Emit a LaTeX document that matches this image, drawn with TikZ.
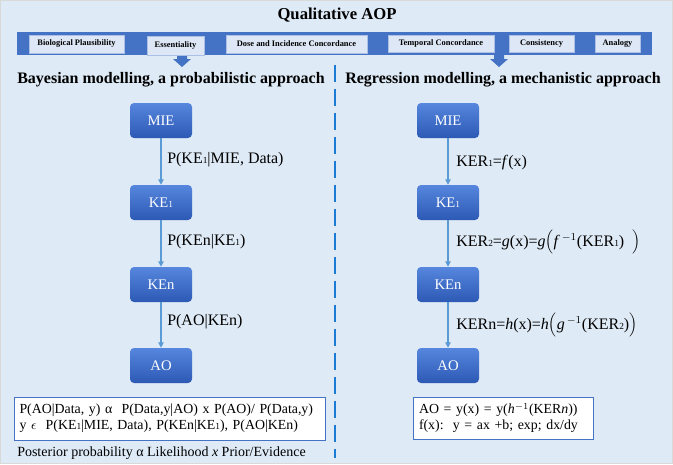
\documentclass[tikz,border=0pt]{standalone}
\usepackage{fontspec}
\setmainfont{Liberation Serif}[BoldFont={Liberation Serif Bold}, ItalicFont={Liberation Serif Italic}]
\usetikzlibrary{arrows.meta}
\definecolor{bgblue}{HTML}{DEEAF6}
\definecolor{barblue}{HTML}{4472C4}
\definecolor{critfill}{HTML}{DDE7F5}
\definecolor{evtop}{HTML}{5686DE}
\definecolor{evbot}{HTML}{2C59B4}
\definecolor{flowblue}{HTML}{5B9BD5}
\definecolor{dashblue}{HTML}{1A7AD4}
\newcommand{\low}[1]{{\fontsize{7}{7}\selectfont #1}}

\begin{document}
\begin{tikzpicture}[x=0.75pt,y=0.75pt,yscale=-1,xscale=1,
  crit/.style={draw=white!55!barblue, fill=critfill, line width=0.5pt, inner sep=0pt, font=\bfseries\fontsize{6.3}{7}\selectfont},
  event/.style={rounded corners=3pt, top color=evtop, bottom color=evbot, minimum width=46.5pt, minimum height=26.25pt, text=white, font=\fontsize{11}{13}\selectfont},
  flow/.style={draw=flowblue, line width=0.8pt, -{Triangle[length=4pt,width=4pt]}},
  lab/.style={anchor=west, inner sep=0pt, font=\fontsize{12}{14}\selectfont},
  heading/.style={font=\bfseries\fontsize{12}{14}\selectfont, inner sep=0pt},
  formbox/.style={draw=barblue, fill=white, line width=0.75pt, align=left, inner ysep=0pt, font=\fontsize{10.4}{12}\selectfont}
]
\useasboundingbox (0,0) rectangle (673,464);
%Shape: Background
\draw [draw=black!15, fill=bgblue] (0.5,0.5) rectangle (672.5,463.5) ;

% Text Node
\node [font=\bfseries\fontsize{12.5}{14}\selectfont, inner sep=0pt] (title) at (337,15) {Qualitative AOP};

%Shape: Criteria bar
\fill [barblue] (17,32) rectangle (652,55) ;
%Shape: Down arrows
\fill [barblue] (177,55) -- (187,55) -- (187,59) -- (191,59) -- (182,67) -- (173,59) -- (177,59) -- cycle ;
\fill [barblue] (494,55) -- (504,55) -- (504,59) -- (508,59) -- (499,67) -- (490,59) -- (494,59) -- cycle ;

% Criteria
\node [crit, minimum width=71.25pt, minimum height=13.5pt] (plaus) at (76.5,44) {Biological Plausibility};
\node [crit, minimum width=42.75pt, minimum height=14.25pt] (essen) at (175.5,45.5) {Essentiality};
\node [crit, minimum width=105.75pt, minimum height=13.5pt] (dose) at (296.5,44) {Dose and Incidence Concordance};
\node [crit, minimum width=79.5pt, minimum height=12.75pt] (tempo) at (441,43.5) {Temporal Concordance};
\node [crit, minimum width=48.75pt, minimum height=12.75pt] (consi) at (541.5,43.5) {Consistency};
\node [crit, minimum width=33.75pt, minimum height=12.75pt] (analo) at (617.5,43.5) {Analogy};

% Text Node
\node [heading] (bayes) at (171,80) {Bayesian modelling, a probabilistic approach};
% Text Node
\node [heading] (regr) at (503,80) {Regression modelling, a mechanistic approach};

%Shape: Divider
\draw [dashblue, line width=1.7pt, dash pattern=on 12.75pt off 5.25pt] (335,65) -- (335,458) ;

% Bayesian chain
\node [event] (bmie) at (161,120.5) {MIE};
\node [event] (bkeone) at (161,202.5) {KE\low{1}};
\node [event] (bken) at (161,284.5) {KEn};
\node [event] (bao) at (161,365.5) {AO};
\draw [flow] (bmie) -- (bkeone) ;
\draw [flow] (bkeone) -- (bken) ;
\draw [flow] (bken) -- (bao) ;
\node [lab] (bpone) at (167,160) {P(KE\low{1}|MIE, Data)};
\node [lab] (bptwo) at (167,242) {P(KEn|KE\low{1})};
\node [lab] (bpthree) at (167,322) {P(AO|KEn)};

% Regression chain
\node [event] (rmie) at (448,120.5) {MIE};
\node [event] (rkeone) at (448,202.5) {KE\low{1}};
\node [event] (rken) at (448,284.5) {KEn};
\node [event] (rao) at (448,365.5) {AO};
\draw [flow] (rmie) -- (rkeone) ;
\draw [flow] (rkeone) -- (rken) ;
\draw [flow] (rken) -- (rao) ;
\node [lab] (rkerone) at (456,163) {KER\low{1}=\textit{f}(x)};
\node [lab] (rkertwo) at (456,242) {KER\low{2}=\textit{g}(x)=\textit{g}$\Bigl($\textit{f}$^{\,-1}$(KER\low{1})\ \ $\Bigr)$};
\node [lab] (rkern) at (456,325) {KERn=\textit{h}(x)=\textit{h}$\Bigl($\textit{g}$^{\,-1}$(KER\low{2})$\Bigr)$};

% Formula boxes
\node [formbox, minimum width=233.25pt, minimum height=32.25pt, text width=225pt, inner xsep=4pt] (bform) at (169.5,418.5)
  {P(AO|Data, y) α\ \ P(Data,y|AO) x P(AO)/ P(Data,y)\\
   y $\epsilon$\ \ P(KE\low{1}|MIE, Data), P(KEn|KE\low{1}), P(AO|KEn)};
\node [formbox, minimum width=135pt, minimum height=31.5pt, text width=126pt, inner xsep=4.5pt] (rform) at (503,418)
  {AO = y(x) = y(\textit{h}$^{-1}$(KER\textit{n}))\\
   f(x):\ \ y = ax +b; exp;\ dx/dy};
% Text Node
\node [anchor=west, inner sep=0pt, font=\fontsize{10.5}{12}\selectfont] (post) at (17,453) {Posterior probability α Likelihood \textit{x} Prior/Evidence};
\end{tikzpicture}
\end{document}
